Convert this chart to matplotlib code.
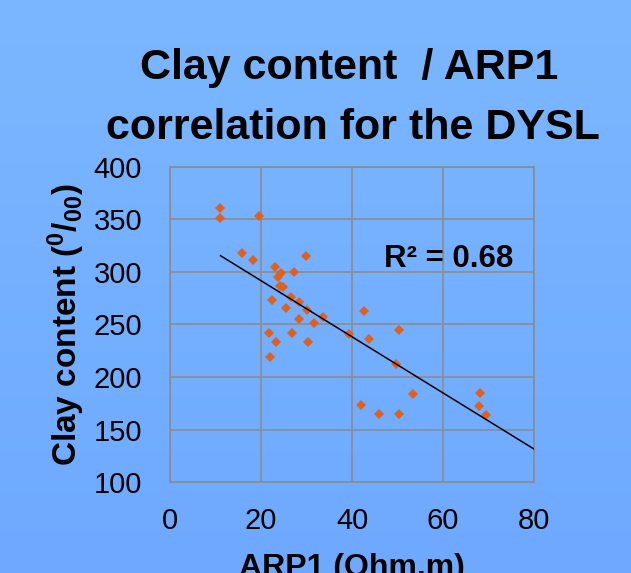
import numpy as np
import matplotlib
matplotlib.use('Agg')
import matplotlib.pyplot as plt
from matplotlib.colors import LinearSegmentedColormap

# data
arp1 = [11.1, 11.1, 19.5, 15.8, 18.3, 29.9, 23.1, 24.3, 23.7, 27.3, 24.2, 24.8,
        22.4, 26.5, 28.4, 25.6, 30.0, 33.7, 28.4, 31.6, 21.8, 26.8, 23.4, 30.3,
        22.0, 39.3, 42.7, 43.8, 50.3, 49.7, 53.3, 42.0, 45.9, 50.4, 68.2, 68.0, 69.4]
clay = [361, 351, 353, 318, 311, 315, 305, 299, 295, 300, 287, 286,
        273, 276, 271, 266, 264, 257, 255, 251, 242, 242, 233, 233,
        219, 241, 263, 236, 245, 212, 184, 173, 165, 165, 185, 172, 164]
# linear trendline as drawn (forecast forward to 80)
trend_x = [11.1, 80]
trend_y = [315.5, 131.4]
x_ticks = [0, 20, 40, 60, 80]
y_ticks = [100, 150, 200, 250, 300, 350, 400]
r2_label = 'R² = 0.68'
title_lines = ['Clay content  / ARP1', 'correlation for the DYSL']

plt.rcParams['font.family'] = 'Liberation Sans'
plt.rcParams['mathtext.fontset'] = 'custom'
plt.rcParams['mathtext.rm'] = 'Liberation Sans:bold'
plt.rcParams['mathtext.bf'] = 'Liberation Sans:bold'

fig = plt.figure(figsize=(6.31, 5.73), dpi=100)

# light blue gradient background
bg = fig.add_axes([0, 0, 1, 1], zorder=-10)
grad = np.linspace(0, 1, 256).reshape(-1, 1)
cmap = LinearSegmentedColormap.from_list('bg', ['#7BB7FF', '#6EA9FF'])
bg.imshow(grad, aspect='auto', cmap=cmap, extent=[0, 1, 0, 1])
bg.axis('off')

ax = fig.add_axes([0.2694, 0.1588, 0.5769, 0.5498])
ax.patch.set_alpha(0)

ax.plot(arp1, clay, ls='', marker='D', markersize=4.6, markeredgewidth=0,
        color='#E0601E', zorder=3)
ax.plot(trend_x, trend_y, color='black', lw=1.1, zorder=4)

ax.text(47, 304.8, r2_label, fontsize=22.5, fontweight='bold', va='baseline')

ax.set_xlim(0, 80)
ax.set_ylim(100, 400)
ax.set_xticks(x_ticks)
ax.set_yticks(y_ticks)
ax.grid(color='#8C8C8C', lw=1.2)
ax.set_axisbelow(True)
for s in ax.spines.values():
    s.set_color('#8C8C8C')
    s.set_linewidth(1.2)
ax.tick_params(length=0, labelsize=21)
ax.tick_params(axis='y', pad=20)
ax.tick_params(axis='x', pad=18)

ax.set_ylabel(r'Clay content ($\mathbf{{}^{0}/_{00}}$)', fontweight='bold',
              fontsize=24, labelpad=5)
ax.set_xlabel('ARP1 (Ohm.m)', fontweight='bold', fontsize=23, labelpad=13)

# title, one text per line so the line gap matches
fig.text(349.5 / 631, 1 - 79 / 573, title_lines[0], ha='center', va='baseline',
         fontweight='bold', fontsize=31)
fig.text(352.5 / 631, 1 - 139 / 573, title_lines[1], ha='center', va='baseline',
         fontweight='bold', fontsize=31)

fig.savefig('out.png', dpi=100)
